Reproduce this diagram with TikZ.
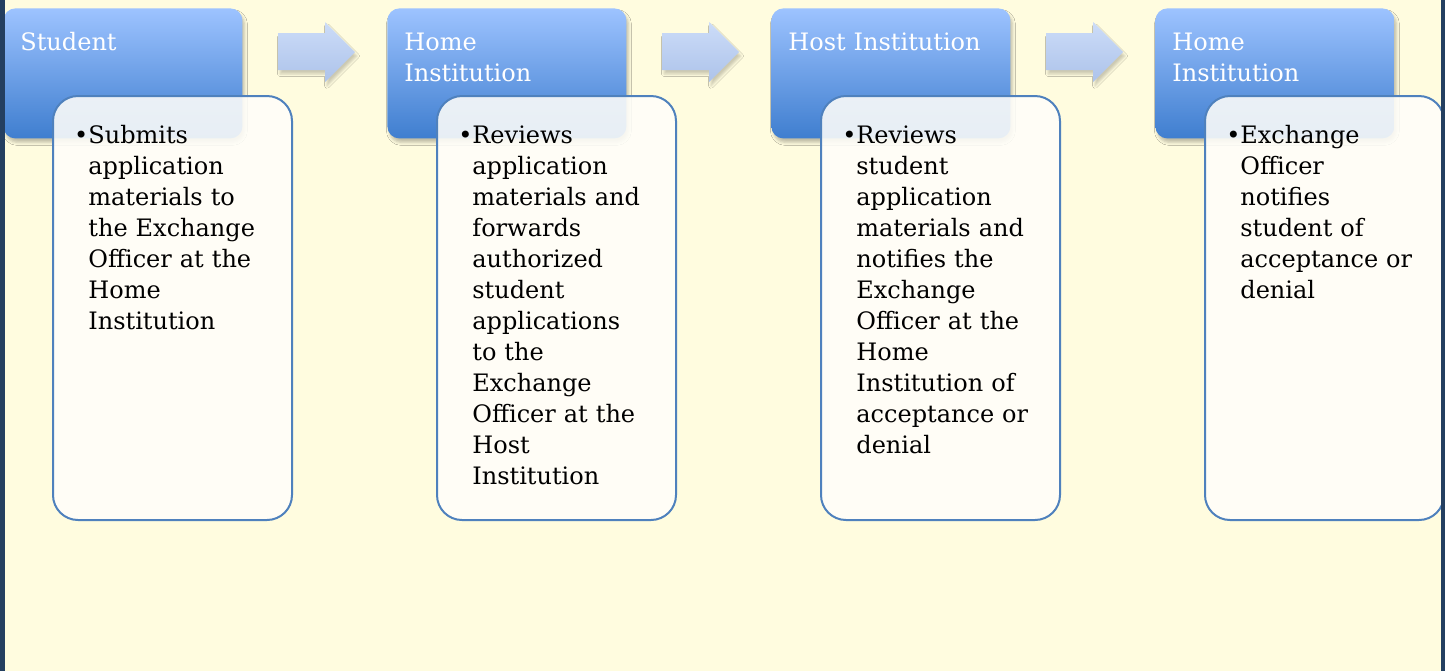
\documentclass[tikz,border=0pt]{standalone}
\usepackage{fontspec}
\setmainfont{DejaVu Serif}
\usetikzlibrary{shadows.blur}

\definecolor{paper}{HTML}{FFFCDF}
\definecolor{edgebar}{HTML}{243F60}
\definecolor{headtop}{HTML}{9DC3FF}
\definecolor{headbot}{HTML}{3F7ECF}
\definecolor{cardline}{HTML}{4F81BD}
\definecolor{cardfill}{HTML}{FFFEFA}
\definecolor{arrtop}{HTML}{CCDCF8}
\definecolor{arrbot}{HTML}{ADC3EA}

\tikzset{
  head/.style={draw=none,rounded corners=6pt,top color=headtop,bottom color=headbot,
    minimum width=119.5pt,minimum height=65pt,anchor=north west,inner sep=0pt,
    blur shadow={shadow xshift=1pt,shadow yshift=-2pt,shadow blur radius=1.5pt,shadow opacity=25}},
  headtext/.style={text=white,anchor=base west,text width=115pt,align=left,inner sep=0pt,
    font=\fontsize{12}{15.5}\selectfont},
  card/.style={draw=cardline,line width=1pt,rounded corners=12.5pt,fill=cardfill,fill opacity=.88,
    minimum width=119.5pt,minimum height=212pt,anchor=north west,inner sep=0pt},
  cardtext/.style={anchor=base west,text width=100pt,align=left,inner sep=0pt,
    font=\fontsize{12}{15.5}\selectfont},
}

\begin{document}
\begin{tikzpicture}[x=.5pt,y=-.5pt]
  \fill[paper] (0,0) rectangle (1445,671);
  \useasboundingbox (0,0) rectangle (1445,671);

  % headers
  \node[head] (h1) at (3,8) {};
  \node[head] (h2) at (387,8) {};
  \node[head] (h3) at (771,8) {};
  \node[head] (h4) at (1155,8) {};
  \node[headtext] (t1) at (20,50) {Student};
  \node[headtext] (t2) at (404,50) {Home\\Institution};
  \node[headtext] (t3) at (788,50) {Host Institution};
  \node[headtext] (t4) at (1172,50) {Home\\Institution};

  % arrows between the steps
  \foreach \i in {0,1,2}
    \shade[shift={(\i*384,0)},top color=arrtop,bottom color=arrbot,
      blur shadow={shadow xshift=1pt,shadow yshift=-2pt,shadow blur radius=1.2pt,shadow opacity=20}]
      (278,33) -- (325,33) -- (325,22) -- (355,52) -- (325,82) -- (325,70) -- (278,70) -- cycle;

  % text cards
  \node[card] (c1) at (52,95) {};
  \node[card] (c2) at (436,95) {};
  \node[card] (c3) at (820,95) {};
  \node[card] (c4) at (1204,95) {};
  \node[cardtext] (b1) at (88,143) {\llap{•}Submits\\application\\materials to\\the Exchange\\Officer at the\\Home\\Institution};
  \node[cardtext] (b2) at (472,143) {\llap{•}Reviews\\application\\materials and\\forwards\\authorized\\student\\applications\\to the\\Exchange\\Officer at the\\Host\\Institution};
  \node[cardtext] (b3) at (856,143) {\llap{•}Reviews\\student\\application\\materials and\\notifies the\\Exchange\\Officer at the\\Home\\Institution of\\acceptance or\\denial};
  \node[cardtext] (b4) at (1240,143) {\llap{•}Exchange\\Officer\\notifies\\student of\\acceptance or\\denial};

  % side bars
  \fill[edgebar] (0,0) rectangle (5,671);
  \fill[edgebar] (1441,0) rectangle (1445,671);
\end{tikzpicture}
\end{document}
